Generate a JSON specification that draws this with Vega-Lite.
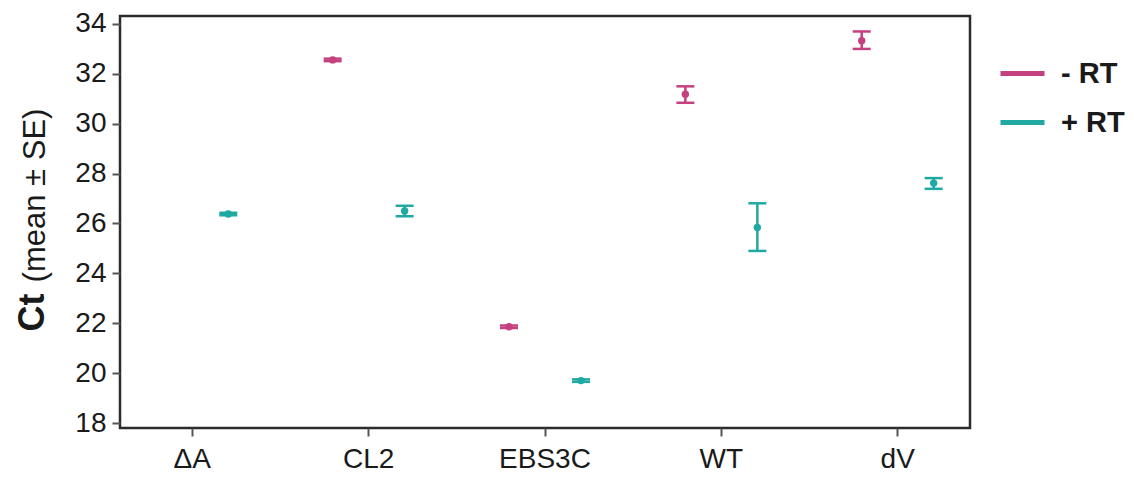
{
  "$schema": "https://vega.github.io/schema/vega-lite/v6.json",
  "width": 850,
  "height": 412,
  "autosize": {"type": "none"},
  "padding": {"left": 120, "top": 16, "right": 164, "bottom": 52},
  "background": "white",
  "config": {
    "view": {"stroke": "#2b2b2b", "strokeWidth": 2.5},
    "font": "Liberation Sans",
    "axis": {"domain": false, "grid": false, "tickColor": "#555555", "tickWidth": 2, "tickSize": 8, "labelColor": "#1a1a1a", "labelFont": "Liberation Sans", "titleColor": "#1a1a1a", "titleFont": "Liberation Sans"}
  },
  "data": {
    "values": [
      {"sample": "ΔA", "rt": "+RT", "mean": 26.38, "lo": 26.33, "hi": 26.43},
      {"sample": "CL2", "rt": "-RT", "mean": 32.56, "lo": 32.51, "hi": 32.61},
      {"sample": "CL2", "rt": "+RT", "mean": 26.5, "lo": 26.29, "hi": 26.71},
      {"sample": "EBS3C", "rt": "-RT", "mean": 21.86, "lo": 21.81, "hi": 21.91},
      {"sample": "EBS3C", "rt": "+RT", "mean": 19.7, "lo": 19.65, "hi": 19.75},
      {"sample": "WT", "rt": "-RT", "mean": 31.18, "lo": 30.84, "hi": 31.5},
      {"sample": "WT", "rt": "+RT", "mean": 25.84, "lo": 24.9, "hi": 26.81},
      {"sample": "dV", "rt": "-RT", "mean": 33.33, "lo": 33.0, "hi": 33.7},
      {"sample": "dV", "rt": "+RT", "mean": 27.62, "lo": 27.39, "hi": 27.82}
    ]
  },
  "encoding": {
    "x": {
      "field": "sample", "type": "nominal", "sort": ["ΔA", "CL2", "EBS3C", "WT", "dV"],
      "scale": {"type": "band", "paddingInner": 0.5, "paddingOuter": 0.16},
      "axis": {"title": null, "labelAngle": 0, "labelFontSize": 28, "labelPadding": 9, "tickSize": 8}
    },
    "xOffset": {
      "field": "rt", "type": "nominal", "sort": ["-RT", "+RT"],
      "scale": {"type": "band", "paddingInner": 0.8, "paddingOuter": 0.0125}
    },
    "color": {
      "field": "rt", "type": "nominal", "sort": ["-RT", "+RT"],
      "scale": {"domain": ["-RT", "+RT"], "range": ["#c4407f", "#1fa9a2"]},
      "legend": {
        "title": null, "orient": "none", "legendX": 878, "legendY": 33,
        "symbolType": "stroke", "symbolStrokeWidth": 5, "symbolSize": 1936,
        "labelFontSize": 29, "labelFontWeight": "bold", "labelColor": "#1a1a1a", "labelOffset": 14,
        "rowPadding": 9, "labelExpr": "datum.label == '-RT' ? '- RT' : '+ RT'",
        "encode": {"symbols": {"update": {"stroke": {"scale": "color", "field": "value"}, "strokeWidth": {"value": 5}}}}
      }
    }
  },
  "resolve": {"axis": {"y": "independent"}},
  "layer": [
    {
      "mark": {"type": "rule", "strokeWidth": 2.5},
      "encoding": {
        "y": {
          "field": "lo", "type": "quantitative",
          "scale": {"domain": [17.8, 34.32], "nice": false, "zero": false},
          "axis": {
            "orient": "left", "values": [18, 20, 22, 24, 26, 28, 30, 32, 34],
            "labelFontSize": 28, "labelPadding": 6, "tickSize": 8,
            "title": "Ct", "titleFontSize": 36, "titleFontWeight": "bold",
            "titleAngle": 270, "titleAlign": "center", "titleBaseline": "alphabetic",
            "titleX": -77, "titleY": 296
          }
        },
        "y2": {"field": "hi"}
      }
    },
    {
      "mark": {"type": "tick", "thickness": 2.5, "size": 18, "opacity": 1},
      "encoding": {"y": {"field": "lo", "type": "quantitative", "axis": null}}
    },
    {
      "mark": {"type": "tick", "thickness": 2.5, "size": 18, "opacity": 1},
      "encoding": {"y": {"field": "hi", "type": "quantitative", "axis": null}}
    },
    {
      "mark": {"type": "point", "shape": "circle", "filled": true, "opacity": 1, "size": 55},
      "encoding": {
        "y": {
          "field": "mean", "type": "quantitative",
          "axis": {
            "orient": "right", "labels": false, "ticks": false, "domain": false,
            "title": "(mean ± SE)", "titleFontSize": 31, "titleFontWeight": "normal",
            "titleAngle": 270, "titleAlign": "center", "titleBaseline": "alphabetic",
            "titleX": -926, "titleY": 179
          }
        }
      }
    }
  ]
}
